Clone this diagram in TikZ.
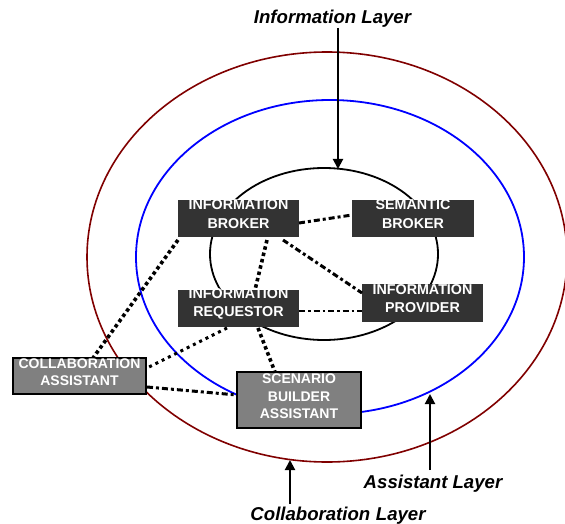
\documentclass[tikz,border=0pt]{standalone}
\usepackage{fontspec}
\setmainfont{Liberation Sans}
\usetikzlibrary{arrows.meta}
\definecolor{collabred}{HTML}{800000}
\definecolor{assistblue}{HTML}{0000FF}
\definecolor{agentdark}{HTML}{333333}
\definecolor{agentgray}{HTML}{808080}
\tikzset{
  layerlabel/.style={font=\fontsize{18.6}{21}\selectfont\bfseries\itshape, inner sep=0pt},
  agentbox/.style={rectangle, fill=agentdark, draw=none, inner sep=0pt},
  assistbox/.style={rectangle, fill=agentgray, draw=black, line width=2pt, inner sep=0pt},
  agenttext/.style={text=white, align=center, inner sep=0pt,
    font=\fontsize{14.3}{18.5}\selectfont\bfseries},
  assisttext/.style={text=white, align=center, inner sep=0pt,
    font=\fontsize{14}{17.5}\selectfont\bfseries},
  pointer/.style={line width=2pt, -{Triangle[length=10pt,width=10pt]}},
  heavydots/.style={line width=3.6pt, dash pattern=on 3.5pt off 3pt},
  dashdot/.style={line width=3pt, dash pattern=on 6pt off 3pt on 3pt off 3pt},
  thindashdot/.style={line width=2pt, dash pattern=on 6pt off 3pt on 2.5pt off 3pt},
  lightdots/.style={line width=3pt, dash pattern=on 3pt off 4pt},
}
\begin{document}
\begin{tikzpicture}[x=1pt, y=-1pt]
\useasboundingbox (0,0) rectangle (565,524);

% layer rings
\draw[collabred, line width=1.6pt] (327,257) ellipse [x radius=240pt, y radius=205pt];
\draw[assistblue, line width=1.8pt] (330,257) ellipse [x radius=194pt, y radius=157pt];
\draw[black, line width=1.8pt] (324,254) ellipse [x radius=114pt, y radius=86pt];

% agents of the information layer
\node[agentbox, minimum width=121pt, minimum height=37pt] (ib) at (238.5,218.5) {};
\node[agentbox, minimum width=122pt, minimum height=37pt] (sb) at (413,218.5) {};
\node[agentbox, minimum width=121pt, minimum height=37pt] (ir) at (238.5,308.5) {};
\node[agentbox, minimum width=121pt, minimum height=38pt] (ip) at (422.5,303) {};

% assistants
\node[assistbox, minimum width=133pt, minimum height=36pt] (ca) at (79.5,376) {};
\node[assistbox, minimum width=124pt, minimum height=56pt] (sa) at (299,400) {};

% connectors between agents
\draw[dashdot] (299,223) -- (352,215);
\draw[heavydots] (267,240) -- (255,290);
\draw[dashdot] (283,240) -- (362,293);
\draw[thindashdot] (299,311) -- (362,311);
\draw[heavydots] (178,240) -- (93,358);
\draw[lightdots] (227,328) -- (147,368);
\draw[heavydots] (258,328) -- (275,372);
\draw[dashdot] (147,387) -- (237,395);

% box captions
\node[agenttext] at ([yshift=4.5pt]ib.center) {INFORMATION\\BROKER};
\node[agenttext] at ([yshift=4.5pt]sb.center) {SEMANTIC\\BROKER};
\node[agenttext] at ([yshift=4.5pt]ir.center) {INFORMATION\\REQUESTOR};
\node[agenttext] at ([yshift=4.5pt]ip.center) {INFORMATION\\PROVIDER};
\node[assisttext] at ([yshift=4pt]ca.center) {COLLABORATION\\ASSISTANT};
\node[assisttext] at ([yshift=3.5pt]sa.center) {SCENARIO\\BUILDER\\ASSISTANT};

% layer labels with pointers
\node[layerlabel] (infolayer) at (332.5,19) {Information Layer};
\node[layerlabel] (assistlayer) at (433,484) {Assistant Layer};
\node[layerlabel] (collablayer) at (338,516) {Collaboration\hspace{0.3em}Layer};

\coordinate (infostart) at (338,28);
\coordinate (infotip) at (338,169);
\coordinate (assiststart) at (430,470);
\coordinate (assisttip) at (430,394);
\coordinate (collabstart) at (290,504);
\coordinate (collabtip) at (290,460);
\draw[pointer] (infostart) -- (infotip);
\draw[pointer] (assiststart) -- (assisttip);
\draw[pointer] (collabstart) -- (collabtip);
\end{tikzpicture}
\end{document}
